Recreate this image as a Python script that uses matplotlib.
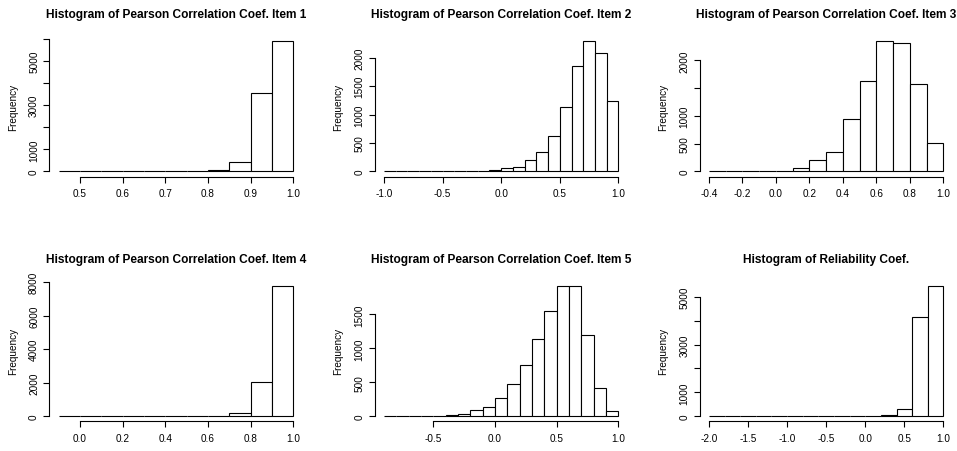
import numpy as np
import matplotlib
matplotlib.use('Agg')
import matplotlib.pyplot as plt
from matplotlib.transforms import offset_copy

plt.rcParams['font.family'] = ['Liberation Sans', 'DejaVu Sans']

# titulos de cada panel
titulos = [
    'Histogram of Pearson Correlation Coef. Item 1',
    'Histogram of Pearson Correlation Coef. Item 2',
    'Histogram of Pearson Correlation Coef. Item 3',
    'Histogram of Pearson Correlation Coef. Item 4',
    'Histogram of Pearson Correlation Coef. Item 5',
    'Histogram of Reliability Coef.',
]

# bordes de las clases y frecuencias
bordes_1 = [0.45, 0.50, 0.55, 0.60, 0.65, 0.70, 0.75, 0.80, 0.85, 0.90, 0.95, 1.00]
frec_1 = [1, 0, 0, 0, 1, 2, 5, 77, 440, 3560, 5910]

bordes_2 = [-1.0, -0.9, -0.8, -0.7, -0.6, -0.5, -0.4, -0.3, -0.2, -0.1, 0.0,
            0.1, 0.2, 0.3, 0.4, 0.5, 0.6, 0.7, 0.8, 0.9, 1.0]
frec_2 = [1, 0, 0, 1, 1, 2, 4, 9, 14, 30, 53, 82, 193, 333, 614, 1135, 1860, 2299, 2088, 1246]

bordes_3 = [-0.4, -0.3, -0.2, -0.1, 0.0, 0.1, 0.2, 0.3, 0.4, 0.5, 0.6, 0.7, 0.8, 0.9, 1.0]
frec_3 = [1, 0, 1, 3, 12, 66, 210, 353, 940, 1635, 2354, 2318, 1575, 509]

bordes_4 = [-0.1, 0.0, 0.1, 0.2, 0.3, 0.4, 0.5, 0.6, 0.7, 0.8, 0.9, 1.0]
frec_4 = [1, 0, 0, 1, 0, 1, 3, 15, 160, 2015, 7804]

bordes_5 = [-0.9, -0.8, -0.7, -0.6, -0.5, -0.4, -0.3, -0.2, -0.1, 0.0,
            0.1, 0.2, 0.3, 0.4, 0.5, 0.6, 0.7, 0.8, 0.9, 1.0]
frec_5 = [1, 0, 4, 5, 8, 12, 39, 88, 137, 274, 480, 755, 1142, 1544, 1924, 1921, 1196, 417, 78]

bordes_6 = [-2.0, -1.8, -1.6, -1.4, -1.2, -1.0, -0.8, -0.6, -0.4, -0.2, 0.0,
            0.2, 0.4, 0.6, 0.8, 1.0]
frec_6 = [1, 0, 0, 0, 0, 0, 0, 0, 1, 2, 8, 42, 293, 4149, 5475]

# marcas de los ejes
xticks_1 = [0.5, 0.6, 0.7, 0.8, 0.9, 1.0]
xticks_2 = [-1.0, -0.5, 0.0, 0.5, 1.0]
xticks_3 = [-0.4, -0.2, 0.0, 0.2, 0.4, 0.6, 0.8, 1.0]
xticks_4 = [0.0, 0.2, 0.4, 0.6, 0.8, 1.0]
xticks_5 = [-0.5, 0.0, 0.5, 1.0]
xticks_6 = [-2.0, -1.5, -1.0, -0.5, 0.0, 0.5, 1.0]

yticks_1 = [0, 1000, 2000, 3000, 4000, 5000, 6000]
ylabels_1 = ['0', '1000', '', '3000', '', '5000', '']
yticks_2 = [0, 500, 1000, 1500, 2000]
ylabels_2 = ['0', '500', '1000', '1500', '2000']
yticks_3 = [0, 500, 1000, 1500, 2000]
ylabels_3 = ['0', '500', '1000', '', '2000']
yticks_4 = [0, 2000, 4000, 6000, 8000]
ylabels_4 = ['0', '2000', '4000', '6000', '8000']
yticks_5 = [0, 500, 1000, 1500]
ylabels_5 = ['0', '500', '1000', '1500']
yticks_6 = [0, 1000, 2000, 3000, 4000, 5000]
ylabels_6 = ['0', '1000', '', '3000', '', '5000']


def dibujar(fig, ax, bordes, frec, titulo, xticks, yticks, ylabels):
    bordes = np.array(bordes)
    ax.bar(bordes[:-1], frec, width=np.diff(bordes), align='edge',
           color='white', edgecolor='black', linewidth=0.8)

    # rango con 4% extra como en R
    dx = (bordes[-1] - bordes[0]) * 0.04
    ax.set_xlim(bordes[0] - dx, bordes[-1] + dx)
    ymax = max(frec)
    ax.set_ylim(-0.04 * ymax, 1.04 * ymax)

    ax.spines['top'].set_visible(False)
    ax.spines['right'].set_visible(False)
    ax.spines['bottom'].set_bounds(xticks[0], xticks[-1])
    ax.spines['left'].set_bounds(yticks[0], yticks[-1])
    for s in ('bottom', 'left'):
        ax.spines[s].set_linewidth(0.8)

    ax.set_xticks(xticks, [f'{v:.1f}' for v in xticks])
    ax.set_yticks(yticks, ylabels)
    ax.tick_params(length=4.3, width=0.8, labelsize=7.2)
    ax.tick_params(axis='x', pad=4.2)
    ax.tick_params(axis='y', pad=3.1)
    for lab in ax.get_yticklabels():
        lab.set_rotation(90)
        lab.set_va('center')

    ax.set_ylabel('Frequency', fontsize=7.2, labelpad=7.7)

    trans = offset_copy(ax.transAxes, fig=fig, y=15.5, units='points')
    ax.text(0.5, 1.0, titulo, transform=trans, ha='center', va='center',
            fontsize=8.6, fontweight='bold')


def main():
    fig = plt.figure(figsize=(9.57, 4.52), dpi=100)

    izq = [0.0516, 0.3914, 0.7310]
    abajo = [0.6071, 0.0655]
    ancho = 0.2646
    alto = 0.3122

    paneles = [
        (bordes_1, frec_1, xticks_1, yticks_1, ylabels_1),
        (bordes_2, frec_2, xticks_2, yticks_2, ylabels_2),
        (bordes_3, frec_3, xticks_3, yticks_3, ylabels_3),
        (bordes_4, frec_4, xticks_4, yticks_4, ylabels_4),
        (bordes_5, frec_5, xticks_5, yticks_5, ylabels_5),
        (bordes_6, frec_6, xticks_6, yticks_6, ylabels_6),
    ]

    for i, (bordes, frec, xt, yt, yl) in enumerate(paneles):
        ax = fig.add_axes([izq[i % 3], abajo[i // 3], ancho, alto])
        dibujar(fig, ax, bordes, frec, titulos[i], xt, yt, yl)

    fig.savefig('out.png', dpi=100)


if __name__ == '__main__':
    main()
